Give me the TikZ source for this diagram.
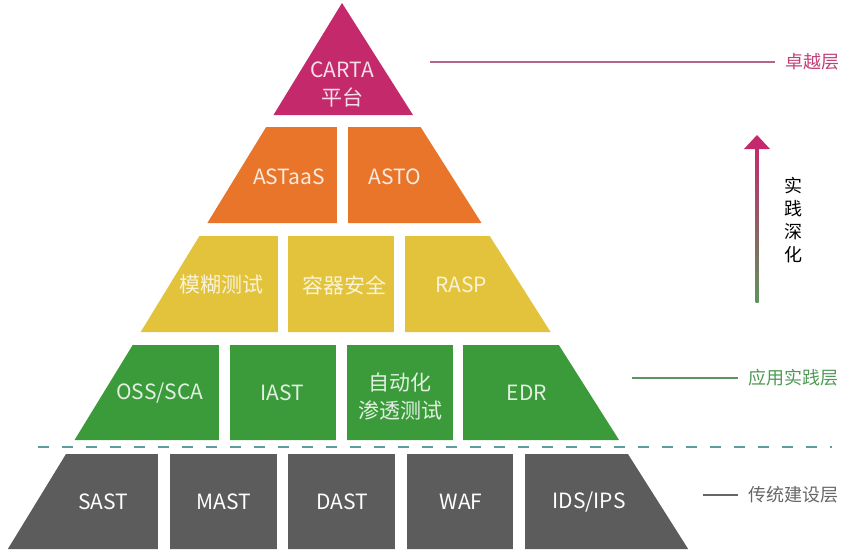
\documentclass[tikz,border=0pt]{standalone}
\usepackage{fontspec}
\setmainfont{Noto Sans CJK SC}
\usetikzlibrary{calc}
\definecolor{cartaC}{HTML}{C42A6B}
\definecolor{orangeC}{HTML}{E8752A}
\definecolor{yellowC}{HTML}{E2C33B}
\definecolor{greenC}{HTML}{3B9B3B}
\definecolor{grayC}{HTML}{5C5C5C}
\definecolor{dashC}{HTML}{5E9C9E}
\definecolor{lineTop}{HTML}{B5658A}
\definecolor{lblTopC}{HTML}{C23F78}
\definecolor{lineMid}{HTML}{5F935F}
\definecolor{lblMidC}{HTML}{4F9A55}
\definecolor{lblLowC}{HTML}{666666}
\def\lx#1{342-0.612*(#1-3)}
\def\rx#1{342+0.634*(#1-3)}
\def\pyrow[#1](#2:#3){\fill[#1] ({\lx{#2}},#2) -- ({\rx{#2}},#2) -- ({\rx{#3}},#3) -- ({\lx{#3}},#3) -- cycle;}
\tikzset{
  boxtxt/.style={font=\fontsize{10.5}{14}\selectfont, align=center, inner sep=0pt},
  lvl/.style={font=\fontsize{9}{11}\selectfont, anchor=west, inner xsep=5pt, inner ysep=0pt}
}

\begin{document}
\begin{tikzpicture}[x=0.5pt, y=-0.5pt]
		%%%%% START %%%%%
		\useasboundingbox (0,0) rectangle (846,553);
		
		\fill[cartaC] (342,3) -- ({\rx{115}},115) -- ({\lx{115}},115) -- cycle;
		\pyrow[orangeC](127:223)
		\pyrow[yellowC](236:332)
		\pyrow[greenC](345:440)
		\pyrow[grayC](454:549)
		
		\fill[white] (337,126) rectangle (348,224);
		
		\fill[white] (278,235) rectangle (288,333);
		\fill[white] (394,235) rectangle (405,333);
		
		\fill[white] (219,344) rectangle (230,441);
		\fill[white] (336,344) rectangle (347,441);
		\fill[white] (453,344) rectangle (463,441);
		
		\fill[white] (158,453) rectangle (170,550);
		\fill[white] (277,453) rectangle (288,550);
		\fill[white] (395,453) rectangle (407,550);
		\fill[white] (513,453) rectangle (525,550);
		
		\node[boxtxt, text=white!85!cartaC] (carta) at (342,84) {CARTA\\平台};
		
		\node[boxtxt, text=white!85!orangeC] (astaas) at (289,177) {ASTaaS};
		\node[boxtxt, text=white!85!orangeC] (asto) at (395,177) {ASTO};
		
		\node[boxtxt, text=white!80!yellowC] (fuzz) at (221,285) {模糊测试};
		\node[boxtxt, text=white!80!yellowC] (container) at (344,285) {容器安全};
		\node[boxtxt, text=white!80!yellowC] (rasp) at (461,285) {RASP};
		
		\node[boxtxt, text=white!85!greenC] (oss) at (160,393) {OSS/SCA};
		\node[boxtxt, text=white!85!greenC] (iast) at (282,393) {IAST};
		\node[boxtxt, text=white!85!greenC] (pentest) at (400,396) {自动化\\渗透测试};
		\node[boxtxt, text=white!85!greenC] (edr) at (527,393) {EDR};
		
		\node[boxtxt, text=white] (sast) at (103,502) {SAST};
		\node[boxtxt, text=white] (mast) at (224,502) {MAST};
		\node[boxtxt, text=white] (dast) at (342,502) {DAST};
		\node[boxtxt, text=white] (waf) at (461,502) {WAF};
		\node[boxtxt, text=white] (idsips) at (589,502) {IDS/IPS};
		
		\coordinate (dashL) at (38,447);
		\coordinate (dashR) at (832,447);
		\draw[dashC, line width=0.75pt, dash pattern=on 5.5pt off 6.5pt] (dashL) -- (dashR);
		
		\node[lvl, text=lblTopC] (top) at (775,62) {卓越层};
		\node[lvl, text=lblMidC] (mid) at (738,378) {应用实践层};
		\node[lvl, text=lblLowC] (low) at (738,495) {传统建设层};
		\coordinate (topEnd) at (430,62);
		\coordinate (midEnd) at (632,378);
		\coordinate (lowEnd) at (703,495);
		\draw[lineTop, line width=0.75pt] (topEnd) -- (top);
		\draw[lineMid, line width=0.75pt] (midEnd) -- (mid);
		\draw[lblLowC, line width=0.75pt] (lowEnd) -- (low);
		
		\coordinate (arrowTip) at (757,135);
		\shade[bottom color=lineMid, top color=cartaC] (755.5,302) rectangle (758.5,148);
		\fill[cartaC] (744,149) -- (770,149) -- (arrowTip) -- cycle;
		\node[font=\fontsize{9}{11.5}\selectfont, align=center, inner sep=0pt] (deep) at (793,220) {实\\践\\深\\化};
		
		%%%%% END %%%%%
	\end{tikzpicture}
\end{document}
